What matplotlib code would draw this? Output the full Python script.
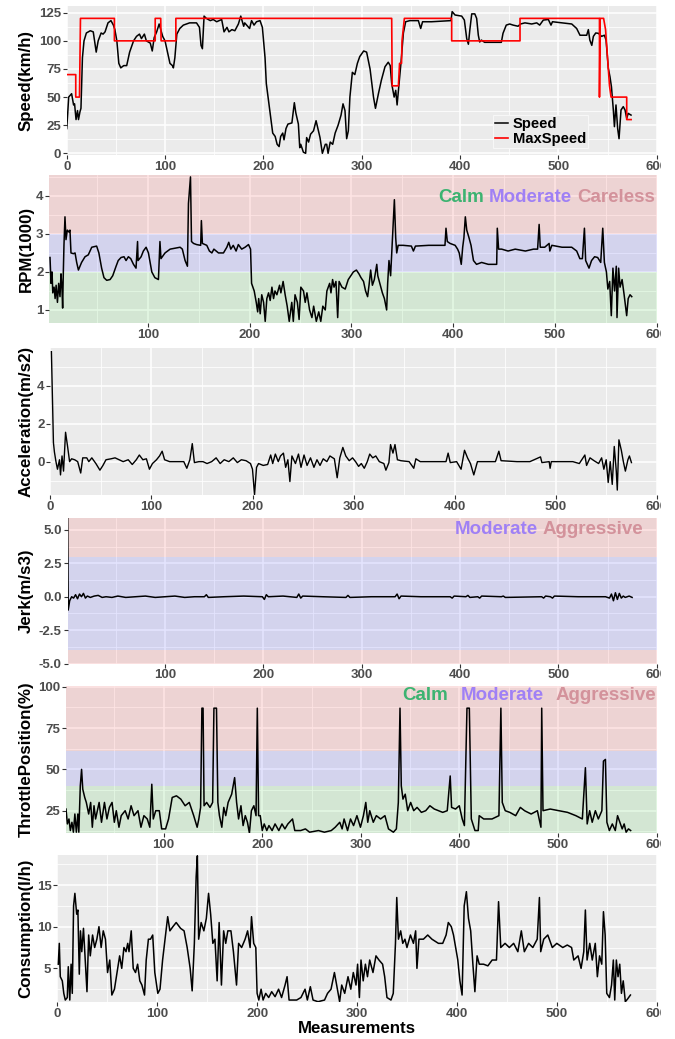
import matplotlib
matplotlib.use('Agg')
import matplotlib.pyplot as plt
from matplotlib.patches import Rectangle
from matplotlib.ticker import FixedLocator, FormatStrFormatter

plt.rcParams['font.family'] = ['Liberation Sans', 'DejaVu Sans']
plt.rcParams['font.weight'] = 'bold'

# ---- data ----
speed_x = [0, 1, 2, 4, 5, 7, 8, 9.5, 11, 12, 13.5, 14.5, 16, 17.6, 20, 24, 27, 30, 32, 35, 37, 39, 42, 45,
           47.5, 49, 51, 53, 55, 58, 61, 64, 68, 71, 74, 76, 79, 81, 85, 87, 89, 91.5, 94, 95.6, 97.6, 100,
           103, 105, 107.5, 108.5, 110, 112, 115, 118.6, 125, 132, 135, 136.6, 138, 139.7, 142, 146, 149,
           152.5, 157.6, 160, 163, 165, 168, 171, 174.6, 177, 180, 181, 183, 186, 188, 190.5, 193, 196.6,
           199, 201.7, 203, 207, 209.5, 212, 214, 216, 217.6, 219.7, 221, 223, 225, 229, 231.5, 233,
           235.6, 237, 238, 240.7, 243, 244, 246, 248, 251, 253.6, 256, 257.6, 260, 263, 264.4, 265.8, 268,
           270.5, 273, 276, 279, 281, 283, 284.7, 286.4, 288, 290.5, 293, 295.6, 298, 302, 305, 308.5, 312,
           314, 317, 320, 323.7, 327, 329, 330.5, 333, 334.6, 336, 338, 340, 342.4, 344.7, 349, 357.6, 360,
           361.9, 371, 390.8, 392, 394.9, 401.7, 404.4, 406.8, 408.5, 410, 411.9, 415, 416.9, 418.6, 420,
           421.7, 425, 442, 443.7, 447, 450.5, 454, 459, 461.5, 466, 472.9, 478, 481, 484.7, 489.8, 492.5,
           494, 503.4, 513.6, 518.6, 522, 528.8, 530.5, 532, 534, 535.6, 538, 540.7, 544, 546.8, 548.5,
           550.8, 552.5, 554, 555.9, 557, 558.6, 560.3, 561.7, 563.7, 566, 567.8, 569.5, 571, 573.9]
speed_y = [22, 35, 50, 52, 53, 43, 44, 30, 38, 30, 37, 40, 85, 100, 107, 109, 108, 90, 100, 107, 106, 108, 116,
           118, 114, 110, 100, 80, 76, 78, 78, 90, 100, 104, 106, 102, 106, 100, 98, 91, 103, 108, 115, 110,
           104, 100, 88, 80, 78, 76, 85, 106, 111, 114, 116, 116, 112, 96, 93, 122, 120, 118, 119, 117, 119,
           108, 112, 108, 110, 109, 115, 122, 113, 116, 114, 111, 118, 114, 117, 118, 112, 85, 62, 35, 18,
           15, 8, 6, 15, 18, 12, 22, 26, 27, 45, 36, 26, 5, 8, 1, 0, 14, 10, 17, 20, 29, 20, 14, 0, 8, 8, 0,
           10, 8, 18, 25, 34, 44, 38, 13, 20, 50, 72, 70, 80, 86, 91, 90, 75, 50, 40, 53, 65, 77, 81, 78, 62,
           50, 56, 43, 62, 81, 107, 117, 118, 118, 111, 117, 117, 118, 126, 123, 122, 118.5, 102, 97, 110,
           124, 124, 120, 105, 99, 100.7, 98.7, 98.7, 106.7, 114, 115, 114, 113, 115, 116, 115, 116, 114,
           118.5, 119, 114, 117, 116, 115, 111, 105, 105, 110, 100.7, 96, 104, 107, 106.7, 104, 105, 100.7,
           75.6, 68, 59, 38.5, 23.7, 43, 22, 13, 38.5, 41.5, 38.5, 31, 35.5, 34]

maxspeed_x = [0, 9.2, 9.2, 13, 13.5, 14, 48.5, 48.5, 90, 90, 95.6, 96, 111, 111, 330.5, 331, 337.3, 338.5,
              340.5, 341, 343.4, 391.5, 391.5, 461, 461, 541.8, 541.8, 542.5, 546, 548, 550.8, 552, 553.6,
              569.5, 569.5, 574]
maxspeed_y = [70, 70, 50, 50, 85, 120, 120, 100, 100, 120, 120, 100, 100, 120, 120, 60, 60, 80, 80, 100, 120,
              120, 100, 100, 120, 120, 50, 120, 120, 110, 75, 60, 50, 50, 30, 30]

rpm_x = [4, 5, 6, 6.7, 8, 9, 10, 11.3, 12.5, 13.8, 14.8, 15.7, 16.4, 17, 17.7, 18.7, 19.7, 21, 22.6, 23.6,
         24.6, 27, 28.6, 30.2, 31.9, 35, 38.4, 41.6, 45, 49.8, 52, 54.7, 57, 59.7, 63, 65.6, 68.9, 71, 73.8,
         76.7, 78.7, 81, 83.3, 86, 88.5, 90, 90.5, 93.5, 95.7, 98.4, 100.7, 104, 107, 110.5, 112, 113, 117,
         122, 131.8, 134, 136.7, 139, 140, 142, 143, 145, 148, 152, 152.7, 153.7, 158, 160.6, 163, 165,
         169.5, 174.4, 177.7, 179.6, 181.6, 184, 186.8, 189, 192.3, 195.6, 199, 201, 202, 204.6, 206.6, 208,
         209, 210.5, 212, 213.8, 215.4, 217, 218.7, 220.3, 222, 223.6, 225, 226.9, 229.5, 230.8, 233, 235,
         237, 239, 241.5, 243, 244.7, 247, 248.7, 250.4, 253, 254.7, 256.4, 259, 261.3, 263, 265.6, 268,
         270, 272, 274.4, 276, 278.7, 280, 281.6, 283, 284.9, 286.6, 288, 290.8, 294, 297, 302, 305, 307.5,
         309.5, 312, 314, 316, 317.4, 319, 320.7, 322.6, 325, 326, 328, 330.5, 332.5, 334.7, 335.7, 337,
         338.6, 339.7, 340.6, 342.3, 343.6, 344.6, 346, 351, 359, 361, 363, 376, 392, 393, 394.3, 397, 402,
         404.4, 406, 408, 409.4, 410.6, 412, 413.4, 415.6, 417.6, 420, 423, 428, 434.6, 442.8, 443.4, 444.7,
         447.7, 454, 461, 471, 479, 483, 484.5, 485.6, 490, 494.3, 495, 497, 507, 516.5, 521.4, 524.5, 527,
         529, 530.2, 533.5, 536, 539, 542, 545, 547, 548.6, 550.6, 552, 553.8, 555.4, 557, 558.6, 560.3,
         561, 562.6, 564, 566, 568, 570.5, 572, 573.8, 575.5]
rpm_y = [2.38, 1.7, 2.0, 1.45, 1.6, 1.3, 1.65, 1.2, 1.7, 1.35, 1.95, 1.6, 1.05, 1.9, 2.7, 3.45, 2.85, 3.1,
         3.05, 3.1, 2.5, 2.48, 2.5, 2.25, 2.05, 2.25, 2.4, 2.45, 2.65, 2.68, 2.5, 2.1, 1.85, 1.78, 1.8, 1.9,
         2.15, 2.3, 2.38, 2.4, 2.3, 2.4, 2.35, 2.2, 2.1, 2.8, 2.3, 2.4, 2.55, 2.65, 2.5, 2.0, 1.85, 1.8, 2.8,
         2.35, 2.5, 2.6, 2.65, 2.6, 2.3, 2.15, 3.8, 4.5, 2.8, 2.75, 2.72, 2.7, 3.35, 2.75, 2.7, 2.55, 2.5,
         2.6, 2.5, 2.5, 2.65, 2.78, 2.6, 2.7, 2.55, 2.72, 2.6, 2.65, 2.72, 2.6, 1.7, 1.5, 1.2, 0.95, 1.3, 0.9,
         1.4, 1.2, 0.7, 1.3, 1.45, 1.25, 1.6, 1.3, 1.5, 1.4, 1.65, 1.45, 1.75, 1.4, 1.1, 0.7, 1.2, 0.7, 1.4,
         1.2, 0.75, 1.6, 1.5, 1.2, 1.45, 1.0, 0.8, 1.1, 0.7, 0.95, 0.7, 1.1, 1.0, 1.5, 1.7, 1.45, 1.8, 1.6,
         1.75, 0.8, 1.75, 1.6, 1.55, 1.8, 2.0, 2.05, 1.95, 1.85, 1.75, 1.5, 1.35, 1.65, 2.05, 1.65, 1.8, 2.2,
         1.9, 1.7, 1.45, 1.3, 1.0, 1.7, 2.3, 1.9, 2.5, 3.0, 3.9, 2.9, 2.5, 2.7, 2.7, 2.68, 2.55, 2.68, 2.7,
         2.7, 3.15, 2.8, 2.75, 2.7, 2.6, 2.5, 2.2, 2.65, 2.9, 3.45, 3.1, 2.9, 2.7, 2.3, 2.2, 2.25, 2.2, 2.2,
         3.15, 2.6, 2.6, 2.55, 2.6, 2.55, 2.6, 2.6, 3.25, 2.65, 2.65, 2.75, 2.55, 2.7, 2.65, 2.65, 2.55, 2.35,
         2.35, 3.15, 2.3, 2.1, 2.3, 2.4, 2.38, 2.25, 3.15, 2.25, 2.0, 1.55, 1.75, 0.85, 2.1, 1.5, 2.15, 0.8,
         2.1, 1.6, 1.8, 1.4, 0.85, 1.3, 1.4, 1.35]

accel_x = [1, 2, 3, 4, 5.5, 7, 9, 10, 11.5, 13, 15, 17, 19, 21, 24, 27, 30, 32, 36, 38, 41, 45, 49, 52, 55,
           60, 64, 68, 72, 77, 81, 85, 88, 91.5, 95, 98, 101, 105, 108, 110.6, 113, 118, 125.5, 132, 135, 138,
           140.4, 142.5, 147, 151, 155, 159.6, 164, 168, 172, 176.6, 181, 185, 189, 193.6, 198, 200, 202, 204,
           206, 210.6, 215, 218, 220, 222.6, 225.5, 227.7, 230.6, 232.8, 235, 237, 239, 242.5, 245.5, 248,
           251, 254, 257.4, 260.8, 263.8, 266.8, 270, 273.6, 276.6, 281, 283.8, 286.4, 289.4, 292.3, 295.7,
           299, 302, 305, 307.7, 310.6, 313.6, 316, 319, 322, 325.5, 330, 332, 335, 336.6, 339, 341, 343.4,
           346.8, 355, 359.6, 361.7, 366, 391.5, 393.6, 395.7, 402, 406.4, 409.8, 412.8, 415.7, 419, 422.6,
           427.7, 440.4, 443.8, 446, 461.7, 474.5, 485, 486.4, 493.6, 494.5, 495.7, 517, 523.4, 528.9, 530.6,
           534, 538, 542.5, 545.5, 547.7, 550, 552, 554, 556, 558, 560, 561, 562.6, 565, 567, 569, 571.5, 573,
           575]
accel_y = [5.8, 3.5, 1.0, 0.5, 0.0, -0.4, 0.1, -0.7, 0.3, -0.5, 1.55, 0.8, 0.0, 0.15, 0.1, 0.0, -0.6, 0.2,
           0.2, 0.0, 0.2, -0.1, -0.45, -0.2, 0.1, 0.15, 0.2, 0.1, 0.0, 0.1, -0.15, 0.1, 0.35, 0.1, 0.15, -0.4,
           -0.1, 0.1, 0.3, 0.55, 0.1, 0.0, 0.0, 0.0, -0.35, 0.1, 0.95, -0.05, 0.0, 0.0, -0.1, 0.0, 0.2, -0.1,
           0.1, 0.0, 0.2, -0.05, 0.1, 0.05, -0.1, -0.4, -1.75, -0.3, -0.1, -0.2, -0.15, 0.35, -0.1, 0.4, 0.0,
           0.3, 0.45, -0.3, 0.1, -1.05, 0.3, -0.1, 0.4, -0.3, 0.35, -0.2, 0.2, -0.3, 0.1, -0.2, 0.15, 0.0, 0.3,
           0.15, -0.85, 0.2, 0.75, 0.3, 0.05, 0.2, 0.0, -0.25, -0.1, -0.35, 0.0, 0.4, 0.2, 0.3, 0.0, -0.1,
           -0.45, -0.05, 0.9, 0.45, 0.9, 0.1, 0.05, 0.0, -0.35, 0.15, 0.0, 0.0, 0.45, -0.05, 0.0, -0.4, 0.6,
           0.2, -0.1, -0.7, 0.0, 0.0, 0.0, 0.55, 0.05, 0.0, 0.0, 0.25, -0.05, 0.0, -0.35, 0.0, 0.0, -0.1, 0.35,
           -0.2, 0.2, 0.05, -0.1, 0.2, -0.4, 0.1, -1.1, 0.0, -1.2, 0.8, -0.5, -1.5, 1.15, 0.6, 0.0, -0.5, 0.1,
           0.3, -0.05]

jerk_x = [1, 1.5, 3, 5, 7, 9, 11, 13, 15, 17, 19, 21, 24, 28, 32, 36, 40, 46, 52, 60, 70, 80, 90, 100, 110,
          120, 130, 140, 142, 144, 160, 180, 199, 201, 203, 205, 220, 234, 236, 238, 240, 260, 284, 286, 288,
          310, 334, 336, 338, 340, 360, 390, 392, 394, 406, 408, 410, 418, 420, 422, 442, 444, 446, 483, 485,
          487, 492, 494, 496, 520, 548, 552, 554, 556, 558, 560, 562, 564, 566, 568, 572, 575]
jerk_y = [5.9, -1.0, -0.3, 0.0, -0.1, 0.15, -0.15, 0.2, 0.0, 0.25, -0.1, 0.05, -0.05, 0.05, 0.1, -0.05, 0.0,
          -0.05, 0.05, -0.05, 0.0, 0.05, -0.05, 0.0, 0.05, -0.05, 0.0, 0.0, 0.15, -0.05, 0.0, 0.05, 0.0, -0.2,
          0.15, 0.0, 0.05, -0.05, 0.2, -0.1, 0.05, 0.0, -0.05, 0.1, -0.05, 0.0, 0.0, 0.2, -0.15, 0.05, 0.0,
          0.0, -0.1, 0.05, 0.0, 0.1, -0.05, 0.0, -0.1, 0.05, 0.0, 0.05, -0.05, 0.0, -0.1, 0.05, 0.0, -0.1,
          0.05, 0.0, 0.0, -0.1, 0.2, -0.3, 0.3, -0.2, 0.25, -0.1, 0.05, -0.05, 0.05, -0.05]

throttle_x = [1, 2.4, 4, 5.4, 7, 8.5, 10, 11.5, 13, 14, 15.5, 16.8, 18, 20, 21.6, 24, 26, 27.7, 29.4, 31,
              34.6, 37, 40, 42.5, 45, 47.7, 50, 52, 54.7, 57, 61, 64, 67, 70, 74, 77, 80, 83.4, 86, 88, 89.5,
              92, 95.6, 98, 102, 105, 108.7, 113, 117.4, 121.8, 126, 130.5, 134, 135.7, 137.5, 138.8, 140,
              141, 143.6, 147, 149.7, 151, 153.6, 155, 156.6, 159, 161, 163, 165.4, 169, 172, 174, 176, 178.4,
              180.6, 182.8, 185, 187, 189, 191.5, 193.7, 195, 196.3, 198, 200, 202, 204.6, 206.8, 210, 213,
              216.8, 220, 223, 226, 230.7, 233, 239, 243.8, 248, 257, 263, 270, 274, 278.6, 281, 283, 286.5,
              289.5, 292.6, 296, 299.6, 302.6, 305, 307, 309, 312.6, 315.7, 320, 324.4, 328, 333, 336, 338,
              339.7, 341, 342.7, 345, 347.5, 350.5, 353.6, 357, 361.4, 365.8, 370, 374.5, 378.9, 383, 387.6,
              390.6, 392, 396, 399.8, 402.8, 405, 407.6, 410, 412, 415.7, 419, 420, 424.6, 433, 440, 442,
              443.4, 446.4, 451, 457, 461.7, 466, 472.7, 479, 482.6, 483.4, 484.7, 492, 500.8, 509.6, 518,
              524.6, 527.7, 529.5, 532, 534.6, 537.8, 540.8, 544.4, 546, 548, 549.5, 552, 555, 558, 560.3,
              562.7, 565, 567, 569, 571.4, 573.6]
throttle_y = [26, 17, 20, 13, 18, 12, 23, 12, 23, 12, 40, 50, 38, 33, 30, 23, 30, 15, 28, 20, 30, 18, 30, 20,
              27, 30, 18, 25, 15, 22, 25, 20, 28, 22, 25, 15, 22, 20, 15, 41, 20, 25, 25, 14, 14, 20, 33, 34,
              32, 28, 30, 22, 15, 20, 27, 87, 87, 28, 30, 27, 30, 87, 87, 30, 22, 15, 27, 22, 30, 35, 45, 30,
              20, 28, 16, 22, 18, 11.5, 25, 28, 22, 87, 22, 22, 13, 17, 13, 16, 13, 17, 13, 17, 14, 17, 20, 13,
              13, 14, 12, 13, 12, 13, 15, 18, 14, 20, 13, 20, 16, 22, 15, 22, 30, 18, 25, 18, 22, 20, 22, 14,
              12, 14, 30, 87, 40, 32, 35, 25, 30, 25, 27, 24, 25, 28, 26, 25, 24, 25, 46, 27, 26, 28, 20, 16,
              87, 87, 20, 13, 13, 22, 20, 20, 22, 87, 30, 25, 24, 22, 27, 25, 23, 25, 15, 87, 25, 26, 25, 24,
              22, 20, 51, 17, 25, 18, 25, 20, 25, 55, 56, 18, 13, 17, 13, 22, 18, 14, 17, 12, 14, 13]

cons_x = [1, 2, 3, 5, 6.5, 8, 10, 11, 12.5, 13.8, 15, 16.3, 17.6, 19.4, 20.6, 22, 23.2, 24.5, 26.2, 28, 29.7,
          31.4, 33, 35.3, 37.4, 39.6, 41.7, 43.9, 46, 48.2, 50.3, 52.5, 54.6, 57.2, 59.8, 62.4, 64.5, 66.7,
          68.8, 70.5, 71.8, 74, 76, 78.3, 80.4, 82.6, 84.7, 87.3, 89, 91.2, 93.3, 95.5, 97.6, 100.6, 102.8,
          105.4, 108.4, 110.5, 112.7, 115.7, 119, 123.4, 126.9, 130, 133, 135, 137.2, 139, 140.2, 141.5, 144,
          146.7, 149.2, 151.4, 153.5, 155.7, 157.8, 160, 162, 164.3, 166.5, 168.6, 170.7, 173.8, 176.3, 179.4,
          181.5, 184.5, 188, 190.5, 193, 194.4, 196.6, 198.7, 200, 201.7, 204, 206, 208.6, 211.6, 214.6, 218,
          221.5, 224.5, 228, 230, 232, 239.6, 243.9, 248, 250.3, 253.3, 256, 261, 267.5, 270.5, 274, 277.4,
          280.4, 282.6, 284.7, 287.7, 291, 293.8, 296.3, 299, 300.6, 302.4, 304, 306.2, 308.4, 310.5, 312.7,
          316, 319, 322, 325.6, 327.7, 330, 334, 336.3, 338.5, 339.8, 341.5, 343.7, 345.8, 348, 350, 353.5,
          356.5, 358.7, 360, 362, 366.5, 370.8, 375, 381.5, 385.8, 389.2, 391.4, 394.4, 396.6, 398.7, 400.9,
          403, 405.2, 407.3, 409.5, 411.6, 413.8, 416, 418, 420.2, 422.4, 426.7, 431, 435.3, 439.6, 441.7,
          443.9, 448.2, 452.5, 456.8, 461, 464.5, 467.5, 471.8, 476, 480.4, 482.6, 483.9, 486.9, 491, 495.5,
          500, 506, 510.5, 514.8, 517, 521.3, 524.3, 527, 528.6, 530.3, 533, 535.5, 538.5, 540.6, 542.8, 545,
          546.7, 548.4, 550, 552.7, 554.8, 556.6, 558, 559.6, 561.3, 563, 564.7, 566.5, 568.6, 570.7, 573.7]
cons_y = [5.5, 8.0, 4.0, 3.5, 2.0, 1.2, 1.5, 5.2, 1.2, 5.5, 2.0, 12.5, 14.0, 11.5, 12.0, 4.3, 9.5, 7.0, 9.8,
          6.0, 2.2, 9.0, 6.5, 9.0, 7.5, 8.5, 10.0, 7.5, 9.5, 8.5, 4.5, 6.0, 1.8, 2.5, 4.5, 6.5, 5.0, 7.5, 7.0,
          8.0, 7.0, 9.5, 5.0, 4.5, 5.5, 3.5, 3.0, 1.8, 6.0, 8.5, 8.5, 9.0, 4.5, 2.0, 2.5, 6.0, 9.0, 11.2, 9.5,
          10.0, 10.5, 9.8, 9.5, 7.5, 5.0, 2.3, 8.0, 16.0, 18.5, 8.5, 10.5, 9.5, 11.0, 14.0, 11.5, 8.0, 8.5,
          3.5, 10.5, 3.0, 9.5, 8.0, 9.5, 9.5, 7.0, 3.0, 8.0, 7.5, 8.5, 9.5, 7.5, 11.2, 8.0, 7.5, 2.0, 1.2,
          2.5, 1.2, 2.0, 1.5, 2.2, 1.6, 2.5, 1.5, 3.0, 4.0, 1.2, 1.2, 1.5, 2.5, 1.2, 2.8, 1.2, 1.0, 1.2, 2.0,
          2.5, 4.5, 2.5, 1.0, 3.0, 2.0, 4.0, 2.5, 4.5, 3.0, 5.5, 1.5, 6.0, 3.5, 5.5, 4.0, 6.0, 4.5, 6.5, 6.0,
          5.5, 4.0, 1.5, 1.2, 2.0, 8.0, 13.5, 8.5, 9.5, 8.0, 8.5, 7.5, 9.0, 8.0, 9.5, 5.0, 8.5, 8.5, 9.0, 8.5,
          8.0, 8.0, 9.0, 10.5, 10.0, 9.0, 7.5, 6.0, 3.5, 1.8, 12.5, 14.2, 11.0, 9.5, 5.5, 2.2, 6.5, 5.5, 5.5,
          5.3, 6.0, 6.0, 13.0, 7.5, 8.0, 7.5, 8.0, 7.0, 9.5, 7.0, 8.0, 7.5, 8.5, 13.5, 7.0, 8.5, 9.0, 7.5,
          8.0, 7.5, 7.8, 7.5, 6.0, 6.5, 5.0, 7.0, 12.0, 6.0, 8.0, 6.0, 8.0, 4.0, 6.5, 5.5, 11.8, 9.0, 2.0,
          1.5, 3.0, 6.0, 1.2, 6.0, 4.0, 5.5, 2.0, 3.5, 1.0, 1.3, 1.8]

# ---- layout (pixels of the 675x1039 picture) ----
W, H = 675, 1039
RIGHT = 656.7
PANEL_BG = '#EBEBEB'
TICK_TXT = '#4D4D4D'
CALM, MODERATE, HIGH = '#3CB371', '#9F80F5', '#D3929B'

fig = plt.figure(figsize=(W / 100, H / 100), dpi=100)


def make_panel(left, top, bottom, xlim, ylim, yticks, ylabel, xticks=range(100, 601, 100),
               yminor=(), yfmt='%d'):
    ax = fig.add_axes([left / W, 1 - bottom / H, (RIGHT - left) / W, (bottom - top) / H])
    ax.set_facecolor(PANEL_BG)
    for s in ax.spines.values():
        s.set_visible(False)
    ax.set_xlim(*xlim)
    ax.set_ylim(*ylim)
    ax.xaxis.set_major_locator(FixedLocator(list(xticks)))
    ax.xaxis.set_minor_locator(FixedLocator(list(range(50, 600, 100))))
    ax.yaxis.set_major_locator(FixedLocator(list(yticks)))
    ax.yaxis.set_minor_locator(FixedLocator(list(yminor)))
    ax.yaxis.set_major_formatter(FormatStrFormatter(yfmt))
    ax.set_axisbelow(True)
    ax.grid(which='major', color='white', lw=1.1)
    ax.grid(which='minor', color='white', lw=0.55)
    ax.tick_params(which='major', length=2.75, width=0.8, color='#333333', pad=1.5,
                   labelsize=9.5, labelcolor=TICK_TXT)
    ax.tick_params(which='minor', length=0)
    for lab in ax.get_xticklabels() + ax.get_yticklabels():
        lab.set_fontweight('bold')
    fig.text(26 / W, 1 - (top + bottom) / 2 / H, ylabel, rotation=90, ha='center', va='center',
             fontsize=12.2, fontweight='bold', color='black')
    return ax


def band_words(ax, words, colors, x, y, gap):
    t = ax.text(x, y, words[-1], color=colors[-1], transform=ax.transAxes, ha='right', va='center',
                fontsize=13.5, fontweight='bold')
    for w, c in zip(reversed(words[:-1]), reversed(colors[:-1])):
        t = ax.annotate(w, xy=(0, 0.5), xycoords=t, xytext=(-gap, 0), textcoords='offset points',
                        ha='right', va='center', color=c, fontsize=13.5, fontweight='bold')


# Speed
ax1 = make_panel(66.7, 6, 155, (0, 600), (-1.5, 131), range(0, 126, 25), 'Speed(km/h)',
                 xticks=range(0, 601, 100), yminor=[12.5, 37.5, 62.5, 87.5, 112.5])
ax1.plot(speed_x, speed_y, color='black', lw=1.1, label='Speed')
ax1.plot(maxspeed_x, maxspeed_y, color='red', lw=1.2, label='MaxSpeed')
leg = ax1.legend(loc='upper left', bbox_to_anchor=(0.7225, 0.27), frameon=True, fancybox=False,
                 facecolor=PANEL_BG, edgecolor='#F7F7F7', framealpha=1, handlelength=0.9,
                 handletextpad=0.3, borderpad=0.15, labelspacing=0.05, borderaxespad=0,
                 prop={'weight': 'bold', 'size': 10.6})
leg.get_frame().set_linewidth(0.8)

# RPM
ax2 = make_panel(49.3, 175, 322.7, (3.3, 600), (0.665, 4.55), [1, 2, 3, 4], 'RPM(1000)',
                 yminor=[1.5, 2.5, 3.5, 4.5])
ax2.axhspan(0.665, 2, color='#00C000', alpha=0.1, lw=0)
ax2.axhspan(2, 3, color='#0000FF', alpha=0.1, lw=0)
ax2.axhspan(3, 4.55, color='#FF0000', alpha=0.1, lw=0)
ax2.plot(rpm_x, rpm_y, color='black', lw=1.1)
band_words(ax2, ['Calm', 'Moderate', 'Careless'], [CALM, MODERATE, HIGH], 0.997, 0.851, 3.6)

# Acceleration
ax3 = make_panel(50.4, 348.3, 495, (0, 600), (-1.76, 5.98), [0, 2, 4], 'Acceleration(m/s2)',
                 xticks=range(0, 601, 100), yminor=[-1, 1, 3, 5])
ax3.plot(accel_x, accel_y, color='black', lw=1.0)

# Jerk
ax4 = make_panel(67.7, 517.7, 663.5, (1, 600), (-5, 5.92), [-5, -2.5, 0, 2.5, 5], 'Jerk(m/s3)',
                 yminor=[-3.75, -1.25, 1.25, 3.75], yfmt='%.1f')
ax4.axhspan(-5, -4, color='#FF0000', alpha=0.1, lw=0)
ax4.axhspan(-4, 3, color='#0000FF', alpha=0.1, lw=0)
ax4.axhspan(3, 5.92, color='#FF0000', alpha=0.1, lw=0)
ax4.plot(jerk_x, jerk_y, color='black', lw=1.1)
band_words(ax4, ['Moderate', 'Aggressive'], [MODERATE, HIGH], 0.977, 0.916, 3.6)

# Throttle
ax5 = make_panel(66, 686, 832.7, (1, 600), (11.7, 100.4), [25, 50, 75, 100], 'ThrottlePosition(%)',
                 yminor=[12.5, 37.5, 62.5, 87.5])
ax5.axhspan(11.7, 40, color='#00C000', alpha=0.1, lw=0)
ax5.axhspan(40, 60.8, color='#0000FF', alpha=0.1, lw=0)
ax5.axhspan(60.8, 100.4, color='#FF0000', alpha=0.1, lw=0)
ax5.plot(throttle_x, throttle_y, color='black', lw=1.1)
band_words(ax5, ['Calm', 'Moderate', 'Aggressive'], [CALM, MODERATE, HIGH], 0.999, 0.934, 8.6)

# Consumption
ax6 = make_panel(57.3, 855, 1001.7, (0, 600), (1.0, 18.6), [5, 10, 15], 'Consumption(l/h)',
                 xticks=range(0, 601, 100), yminor=[2.5, 7.5, 12.5, 17.5])
ax6.plot(cons_x, cons_y, color='black', lw=1.1)
ax6.set_xlabel('Measurements', fontsize=12.2, fontweight='bold', labelpad=1)

# the source picture is cut just right of the last tick label
fig.patches.append(Rectangle((661 / W, 0), 1, 1, transform=fig.transFigure, facecolor='white',
                             edgecolor='none', zorder=10))

fig.savefig('out.png', dpi=100, facecolor='white')
